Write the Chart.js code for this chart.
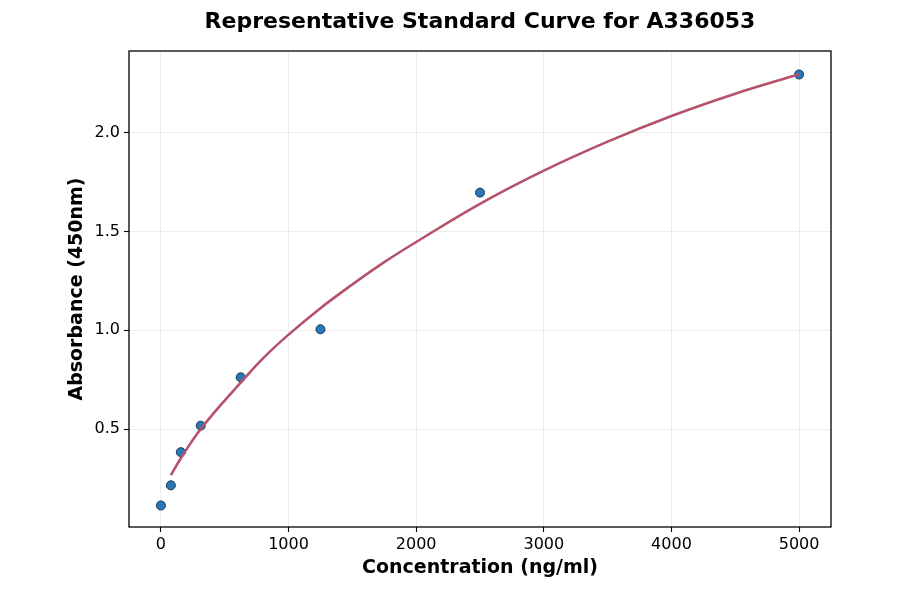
<!DOCTYPE html>
<html>
<head>
<meta charset="utf-8">
<script src="https://cdn.jsdelivr.net/npm/chart.js@4"></script>
<style>
html,body{margin:0;padding:0;background:#fff;}
#c{display:block;}
</style>
</head>
<body>
<canvas id="c" width="900" height="594"></canvas>
<script>
// Measured standards
const concentrations = [0, 78, 156, 312, 625, 1250, 2500, 5000];
const absorbances = [0.113, 0.215, 0.383, 0.517, 0.762, 1.005, 1.697, 2.295];

// Fitted curve
const curveX = [78, 156, 234, 312, 469, 625, 800, 1000, 1250, 1500, 1750, 2000, 2500, 3000, 3500, 4000, 4500, 5000];
const curveY = [0.267, 0.352, 0.43, 0.50, 0.622, 0.735, 0.858, 0.978, 1.112, 1.232, 1.345, 1.447, 1.640, 1.808, 1.955, 2.085, 2.198, 2.296];

const xTicks = [0, 1000, 2000, 3000, 4000, 5000];
const yTicks = [0.5, 1.0, 1.5, 2.0];

const titleText = 'Representative Standard Curve for A336053';
const xLabel = 'Concentration (ng/ml)';
const yLabel = 'Absorbance (450nm)';

const FONT = "'DejaVu Sans', sans-serif";

const framePlugin = {
  id: 'frame',
  afterDatasetsDraw(chart) {
    const a = chart.chartArea, ctx = chart.ctx;
    ctx.save();
    ctx.strokeStyle = '#000';
    ctx.lineWidth = 1.3;
    ctx.strokeRect(a.left, a.top, a.right - a.left, a.bottom - a.top);
    ctx.restore();
  },
  afterDraw(chart) {
    const a = chart.chartArea, ctx = chart.ctx;
    ctx.save();
    ctx.fillStyle = '#000';
    ctx.font = "bold 22px " + FONT;
    ctx.textAlign = 'center';
    ctx.textBaseline = 'middle';
    ctx.fillText(titleText, (a.left + a.right) / 2, 22);
    ctx.restore();
  }
};

new Chart(document.getElementById('c'), {
  type: 'scatter',
  data: {
    datasets: [
      {
        label: 'fit',
        data: curveX.map((x, i) => ({x: x, y: curveY[i]})),
        showLine: true,
        borderColor: '#b5526a',
        borderWidth: 2.6,
        pointRadius: 0,
        pointHoverRadius: 0,
        tension: 0.4,
        fill: false,
        order: 0
      },
      {
        label: 'standards',
        data: concentrations.map((x, i) => ({x: x, y: absorbances[i]})),
        showLine: false,
        backgroundColor: '#2877b8',
        borderColor: '#1b3550',
        borderWidth: 1,
        pointRadius: 4.5,
        order: 1
      }
    ]
  },
  options: {
    responsive: false,
    animation: false,
    devicePixelRatio: 1,
    layout: {padding: {left: 0, right: 69, top: 51, bottom: 0}},
    plugins: {
      legend: {display: false},
      tooltip: {enabled: false},
      title: {display: false}
    },
    scales: {
      x: {
        type: 'linear',
        min: -250,
        max: 5250,
        afterBuildTicks: s => { s.ticks = xTicks.map(v => ({value: v})); },
        afterFit: s => { s.height = 67; },
        grid: {color: '#e8e8e8', lineWidth: 0.8, tickColor: '#000', tickLength: 5, tickWidth: 1.1},
        border: {display: false},
        ticks: {color: '#000', font: {family: FONT, size: 16}, padding: 3, maxRotation: 0,
                callback: v => String(v)},
        title: {display: true, text: xLabel, color: '#000',
                font: {family: FONT, size: 19, weight: 'bold'}, padding: {top: 0, bottom: 15}}
      },
      y: {
        type: 'linear',
        min: 0.004,
        max: 2.414,
        afterBuildTicks: s => { s.ticks = yTicks.map(v => ({value: v})); },
        afterFit: s => { s.width = 129; },
        grid: {color: '#e8e8e8', lineWidth: 0.8, tickColor: '#000', tickLength: 5, tickWidth: 1.1},
        border: {display: false},
        ticks: {color: '#000', font: {family: FONT, size: 16}, padding: 4,
                callback: v => v.toFixed(1)},
        title: {display: true, text: yLabel, color: '#000',
                font: {family: FONT, size: 19, weight: 'bold'}, padding: {top: 66, bottom: 0}}
      }
    }
  },
  plugins: [framePlugin]
});
</script>
</body>
</html>
